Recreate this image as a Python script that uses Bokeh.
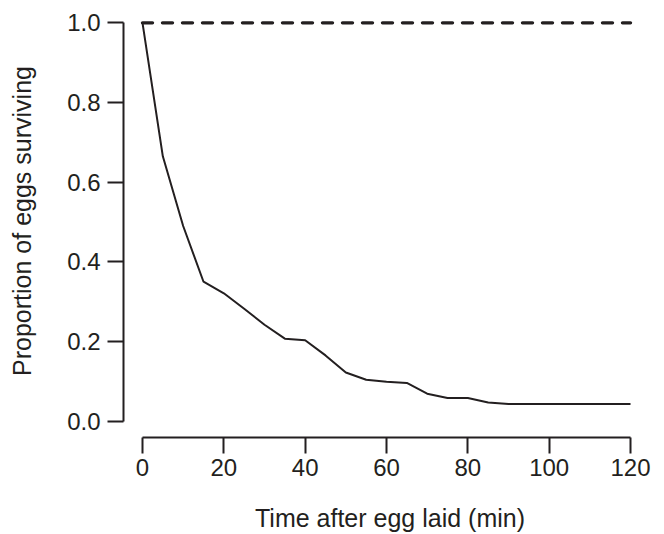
from bokeh.plotting import figure
from bokeh.models import FixedTicker, PrintfTickFormatter, Range1d
from bokeh.embed import file_html
from bokeh.resources import INLINE

# Data
time_min = [0, 5, 10, 15, 20, 25, 30, 35, 40, 45, 50, 55, 60, 65, 70, 75, 80, 85, 90, 95, 100, 105, 110, 115, 120]
surviving = [1.0, 0.665, 0.49, 0.35, 0.321, 0.282, 0.242, 0.207, 0.203, 0.165, 0.122, 0.104, 0.099, 0.096, 0.069, 0.058, 0.058, 0.047, 0.043, 0.043, 0.043, 0.043, 0.043, 0.043, 0.043]
control_time = [0, 120]
control_surviving = [1.0, 1.0]
x_ticks = [0, 20, 40, 60, 80, 100, 120]
y_ticks = [0.0, 0.2, 0.4, 0.6, 0.8, 1.0]

FONT = "Liberation Sans"
INK = "#231f20"

p = figure(width=664, height=534, output_backend="svg", toolbar_location=None,
           x_range=Range1d(-4.672, 126.39), y_range=Range1d(-0.0411, 1.0461),
           min_border_left=123, min_border_bottom=94, min_border_top=4, min_border_right=8)
p.outline_line_color = None
p.grid.visible = False
p.background_fill_color = "white"
p.border_fill_color = "white"

p.line(control_time, control_surviving, line_color=INK, line_width=3.4, line_dash="10 10", line_cap="round")
p.line(time_min, surviving, line_color=INK, line_width=2)

for ax in (p.xaxis[0], p.yaxis[0]):
    ax.axis_line_color = INK
    ax.axis_line_width = 2
    ax.major_tick_line_color = INK
    ax.major_tick_line_width = 2
    ax.major_tick_out = 16
    ax.major_tick_in = 0
    ax.minor_tick_line_color = None
    ax.major_label_text_font = FONT
    ax.major_label_text_font_size = "24px"
    ax.major_label_text_color = INK
    ax.axis_label_text_font = FONT
    ax.axis_label_text_font_size = "25px"
    ax.axis_label_text_font_style = "normal"
    ax.axis_label_text_color = INK

p.xaxis[0].ticker = FixedTicker(ticks=x_ticks)
p.xaxis[0].bounds = (0, 120)
p.xaxis[0].axis_label = "Time after egg laid (min)"
p.xaxis[0].major_label_standoff = 5
p.xaxis[0].axis_label_standoff = 25

p.yaxis[0].ticker = FixedTicker(ticks=y_ticks)
p.yaxis[0].formatter = PrintfTickFormatter(format="%.1f")
p.yaxis[0].bounds = (0, 1)
p.yaxis[0].axis_label = "Proportion of eggs surviving"
p.yaxis[0].major_label_standoff = 7
p.yaxis[0].axis_label_standoff = 28

open("out.html", "w").write(file_html(p, INLINE))
